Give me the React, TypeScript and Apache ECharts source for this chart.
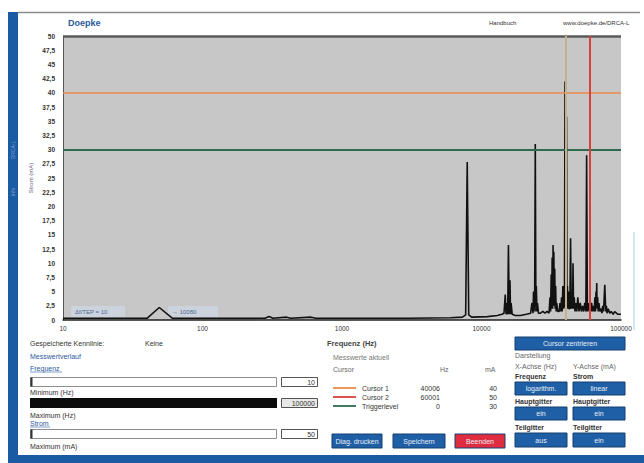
import React, { useEffect, useRef } from "react";
import * as echarts from "echarts";

// ---- data ----
const xTickLabels = ["10", "100", "1000", "10000", "100000"];
const yMin = 0;
const yMax = 50;
const yStep = 2.5;

const spectrumHz = [
  10, 20, 40, 49, 61, 150, 280, 300, 320, 400, 430, 600, 650, 1500, 3000, 6000, 7300, 7700, 7900, 8100,
  8500, 11000, 13000, 14000, 14500, 14800, 15000, 15200, 15400, 15600, 15800, 16000, 16150, 16300, 16600,
  17500, 19000, 21000, 22500, 23000, 23400, 23600, 23800, 24050, 24300, 24550, 24700, 25000, 25200, 25600,
  26500, 27500, 28500, 29500, 30500, 31000, 31300, 31600, 31850, 32100, 32350, 32600, 32800, 33000, 33250,
  33500, 33750, 34000, 34300, 34600, 35200, 36000, 36500, 37000, 37500, 37900, 38300, 38800, 39300, 39700,
  39950, 40200, 40450, 40700, 41000, 41300, 41600, 42000, 42400, 43000, 43500, 44000, 44500, 45000, 45300,
  45700, 46200, 46800, 47500, 48200, 49000, 50000, 51000, 52000, 53000, 54000, 55000, 56000, 56700, 57400,
  58500, 59300, 60000, 60800, 61500, 62500, 63500, 64300, 65000, 65600, 66200, 66600, 67000, 67400, 68000,
  68700, 69500, 70500, 72000, 73000, 74000, 75000, 76500, 77800, 78500, 79500, 81000, 83000, 85000, 88000,
  90000, 95000, 100000,
];
const spectrumMa = [
  0.3, 0.3, 0.3, 2.2, 0.3, 0.3, 0.3, 0.6, 0.3, 0.5, 0.3, 0.5, 0.3, 0.3, 0.3, 0.4, 0.5, 0.9, 27.8, 0.9,
  0.5, 0.6, 0.8, 1.0, 1.2, 4.5, 1.0, 3.0, 1.0, 13.2, 1.0, 7.0, 1.0, 3.0, 1.0,
  0.8, 0.8, 1.0, 1.2, 3.0, 1.2, 5.0, 1.5, 4.0, 31, 1.5, 6.0, 1.5, 3.0, 1.2,
  1.2, 1.5, 1.2, 1.5, 1.2, 4.0, 1.5, 8.0, 2.0, 11, 2.0, 13.2, 2.5, 12, 2.5,
  9.0, 2.0, 6.0, 1.5, 3.0, 1.5, 1.5, 3.0, 1.5, 4.0, 1.5, 6.0, 2.0, 2.5, 42,
  3.0, 8.0, 3.0, 35.8, 2.5, 6.0, 2.0, 5.0, 2.0, 2.0, 14.4, 2.0, 5.0, 2.0, 10,
  2.0, 4.0, 1.5, 3.0, 1.5, 4.0, 1.5, 3.0, 1.5, 2.5, 1.5, 3.0, 1.5, 29, 1.5,
  3.0, 1.5, 4.0, 1.5, 3.0, 1.5, 2.5, 1.5, 4.0, 1.5, 5.0, 2.0, 6.5, 2.0, 4.0,
  1.5, 3.0, 1.5, 2.0, 1.2, 2.5, 1.5, 6.2, 1.5, 2.5, 1.2, 2.0, 1.2, 1.5, 1.0,
  1.5, 1.0, 1.0,
];

const cursorNames = ["Cursor 1", "Cursor 2", "Triggerlevel"];
const cursorHz = [40006, 60001, 0];
const cursorMa = [40, 50, 30];
const cursorColors = ["#ec8a4a", "#d8403c", "#2f6a50"];

const sliderValues = ["10", "100000", "50"];

const FONT = "Liberation Sans";

function txt(x: number, y: number, text: string, o: any = {}) {
  return {
    type: "text",
    x,
    y,
    silent: true,
    style: {
      text,
      fill: o.fill || "#333",
      fontSize: o.size || 7,
      fontFamily: FONT,
      fontWeight: o.weight || "normal",
      align: o.align || "left",
      verticalAlign: "middle",
    },
    rotation: o.rotation || 0,
  };
}
function rect(x: number, y: number, w: number, h: number, fill: string, stroke?: string, lw = 1) {
  return {
    type: "rect",
    silent: true,
    shape: { x, y, width: w, height: h },
    style: { fill, stroke: stroke || null, lineWidth: stroke ? lw : 0 },
  };
}
function button(x: number, y: number, w: number, h: number, label: string, fill = "#1f5fa6") {
  return [
    rect(x, y, w, h, fill, "#153f70", 1),
    txt(x + w / 2, y + h / 2, label, { fill: "#e8eef6", align: "center" }),
  ];
}
function line(x1: number, y1: number, x2: number, y2: number, stroke: string, lw = 1) {
  return {
    type: "line",
    silent: true,
    shape: { x1, y1, x2, y2 },
    style: { stroke, lineWidth: lw },
  };
}

export default function App() {
  const ref = useRef<HTMLDivElement>(null);
  useEffect(() => {
    if (!ref.current) return;
    const chart = echarts.init(ref.current, undefined, { renderer: "svg" });
    const data = spectrumHz.map((f, i) => [f, spectrumMa[i]]);

    const graphics: any[] = [];
    // frame
    graphics.push(rect(8, 12, 10, 451, "#1b5ba3"));
    graphics.push(rect(8, 455, 636, 8, "#1b5ba3"));
    graphics.push(line(18, 12.5, 640, 12.5, "#8a8a8a", 1.5));
    graphics.push(txt(13, 150, "DRCA-L", { fill: "#7fa6d4", size: 5, rotation: Math.PI / 2, align: "center" }));
    graphics.push(txt(13, 192, "Info", { fill: "#7fa6d4", size: 5, rotation: Math.PI / 2, align: "center" }));
    graphics.push(line(634, 232, 634, 330, "#a9cce8", 1));
    // header
    graphics.push(txt(68, 23, "Doepke", { fill: "#2a5a9e", size: 9, weight: "bold" }));
    graphics.push(txt(489, 23, "Handbuch", { size: 6 }));
    graphics.push(txt(563, 23, "www.doepke.de/DRCA-L", { size: 6 }));
    // y-axis title
    graphics.push(txt(31, 178, "Strom (mA)", { fill: "#6a5a8a", size: 6, rotation: Math.PI / 2, align: "center" }));
    // in-plot annotation boxes
    graphics.push(rect(71, 306, 54, 11, "#cdd3dc"));
    graphics.push(txt(75, 311.5, "Δf/TEP = 10", { fill: "#4a6a9a", size: 6 }));
    graphics.push(rect(168, 306, 50, 11, "#cdd3dc"));
    graphics.push(txt(172, 311.5, "→ 10080", { fill: "#4a6a9a", size: 6 }));

    // left panel
    graphics.push(txt(30, 343, "Gespeicherte Kennlinie:"));
    graphics.push(txt(145, 343, "Keine"));
    graphics.push(txt(30, 356, "Messwertverlauf", { fill: "#2a5a9e" }));
    graphics.push(txt(30, 368, "Frequenz", { fill: "#2a5a9e" }));
    graphics.push(line(30, 372, 62, 372, "#2a5a9e", 0.6));
    graphics.push(rect(30.5, 377.5, 246, 9, "#ffffff", "#8c8c8c"));
    graphics.push(rect(30.5, 377.5, 2, 9, "#333"));
    graphics.push(rect(281.5, 377.5, 36, 9, "#ffffff", "#555"));
    graphics.push(txt(315, 382, sliderValues[0], { align: "right" }));
    graphics.push(txt(30, 392, "Minimum (Hz)"));
    graphics.push(rect(30, 398, 247, 10, "#0c0c0c"));
    graphics.push(rect(281.5, 398.5, 36, 9, "#e8e8e8", "#555"));
    graphics.push(txt(315, 403, sliderValues[1], { align: "right" }));
    graphics.push(txt(30, 415, "Maximum (Hz)"));
    graphics.push(txt(30, 423, "Strom", { fill: "#2a5a9e" }));
    graphics.push(line(30, 427, 50, 427, "#2a5a9e", 0.6));
    graphics.push(rect(30.5, 429.5, 246, 9, "#ffffff", "#8c8c8c"));
    graphics.push(rect(30.5, 429.5, 2, 9, "#333"));
    graphics.push(rect(281.5, 429.5, 36, 9, "#ffffff", "#555"));
    graphics.push(txt(315, 434, sliderValues[2], { align: "right" }));
    graphics.push(txt(30, 446, "Maximum (mA)"));

    // middle panel
    graphics.push(txt(327, 343, "Frequenz (Hz)", { size: 7.5, weight: "bold", fill: "#444" }));
    graphics.push(txt(333, 357, "Messwerte aktuell", { fill: "#777" }));
    graphics.push(txt(333, 369, "Cursor", { fill: "#666" }));
    graphics.push(txt(440, 369, "Hz", { fill: "#666" }));
    graphics.push(txt(485, 369, "mA", { fill: "#666" }));
    cursorNames.forEach((n, i) => {
      const y = 388 + i * 9;
      graphics.push(line(333, y, 356, y, cursorColors[i], 1.8));
      graphics.push(txt(362, y, n));
      graphics.push(txt(440, y, String(cursorHz[i]), { align: "right" }));
      graphics.push(txt(497, y, String(cursorMa[i]), { align: "right" }));
    });
    graphics.push(...button(332, 434, 50, 14, "Diag. drucken"));
    graphics.push(...button(393, 434, 52, 14, "Speichern"));
    graphics.push(...button(455, 434, 50, 14, "Beenden", "#e02c40"));

    // right panel
    graphics.push(...button(515, 337, 110, 13, "Cursor zentrieren"));
    graphics.push(txt(515, 355, "Darstellung", { fill: "#666" }));
    graphics.push(txt(515, 366, "X-Achse (Hz)", { fill: "#666" }));
    graphics.push(txt(573, 366, "Y-Achse (mA)", { fill: "#666" }));
    graphics.push(txt(515, 376, "Frequenz", { weight: "bold" }));
    graphics.push(txt(573, 376, "Strom", { weight: "bold" }));
    graphics.push(...button(515, 382, 52, 13, "logarithm."));
    graphics.push(...button(573, 382, 52, 13, "linear"));
    graphics.push(txt(515, 401, "Hauptgitter", { weight: "bold" }));
    graphics.push(txt(573, 401, "Hauptgitter", { weight: "bold" }));
    graphics.push(...button(515, 407, 52, 13, "ein"));
    graphics.push(...button(573, 407, 52, 13, "ein"));
    graphics.push(txt(515, 427, "Teilgitter", { weight: "bold" }));
    graphics.push(txt(573, 427, "Teilgitter", { weight: "bold" }));
    graphics.push(...button(515, 433, 52, 14, "aus"));
    graphics.push(...button(573, 433, 52, 14, "ein"));

    chart.setOption({
      animation: false,
      backgroundColor: "#ffffff",
      grid: {
        left: 63,
        right: 23,
        top: 36,
        bottom: 143,
        show: true,
        backgroundColor: "#c7c7c7",
        borderWidth: 0,
      },
      xAxis: {
        type: "log",
        logBase: 10,
        min: 10,
        max: 100000,
        axisLine: { show: true, lineStyle: { color: "#222", width: 1.5 } },
        axisTick: { show: false },
        splitLine: { show: false },
        minorSplitLine: { show: false },
        axisLabel: {
          fontSize: 6.5,
          color: "#333",
          fontFamily: FONT,
          margin: 5,
          formatter: (v: number) => {
            const s = String(Math.round(v));
            return xTickLabels.includes(s) ? s : "";
          },
        },
      },
      yAxis: {
        type: "value",
        min: yMin,
        max: yMax,
        interval: yStep,
        axisLine: { show: true, lineStyle: { color: "#555", width: 1 } },
        axisTick: { show: false },
        splitLine: { show: false },
        axisLabel: {
          fontSize: 6.5,
          color: "#333",
          fontFamily: FONT,
          fontWeight: "bold",
          margin: 8,
          formatter: (v: number) => String(v).replace(".", ","),
        },
      },
      series: [
        {
          type: "line",
          data,
          symbol: "none",
          z: 3,
          lineStyle: { color: "#111", width: 1.6 },
          markLine: {
            silent: true,
            symbol: "none",
            label: { show: false },
            data: [
              { yAxis: cursorMa[1], lineStyle: { color: "#5a5a5a", width: 2.5, type: "solid" } },
              { yAxis: cursorMa[0], lineStyle: { color: cursorColors[0], width: 1.5, type: "solid" } },
              { yAxis: cursorMa[2], lineStyle: { color: cursorColors[2], width: 2, type: "solid" } },
              { xAxis: cursorHz[0], lineStyle: { color: "#c4b08a", width: 2, type: "solid" } },
              { xAxis: cursorHz[1], lineStyle: { color: cursorColors[1], width: 2, type: "solid" } },
            ],
          },
        },
      ],
      graphic: graphics,
    });
    return () => chart.dispose();
  }, []);
  return (
    <div
      ref={ref}
      style={{ position: "absolute", left: 0, top: 0, width: 644, height: 463 }}
    />
  );
}
